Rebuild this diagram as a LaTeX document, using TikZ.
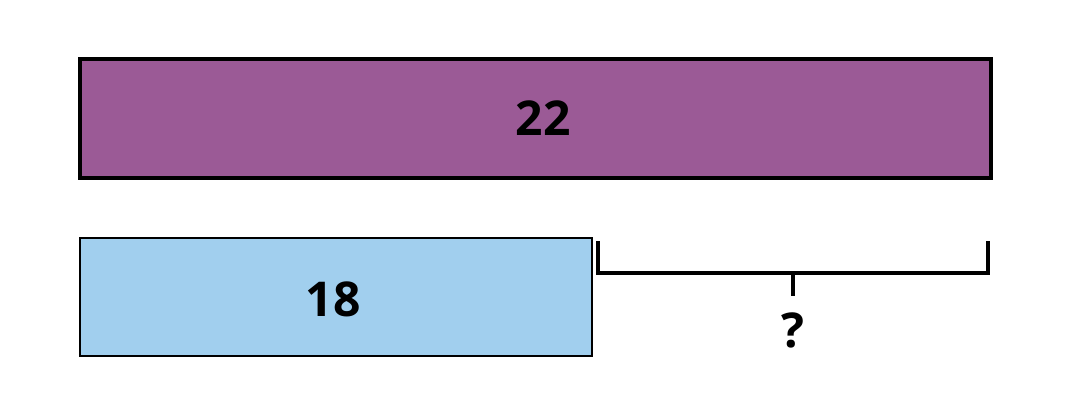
\documentclass[tikz,border=0pt]{standalone}
\usepackage{fontspec}
\setmainfont{Open Sans}
\definecolor{barpurple}{RGB}{155,90,150}
\definecolor{barblue}{RGB}{161,207,238}
\tikzset{every picture/.style={line width=0.75pt}}
\tikzset{
  barlabel/.style={font=\fontsize{48}{48}\selectfont\bfseries},
  bracketline/.style={line width=3.5pt, line cap=butt, line join=miter}
}

\begin{document}
\begin{tikzpicture}[x=1pt,y=1pt,yscale=-1,xscale=1]
\useasboundingbox (0,0) rectangle (1074,404);

%Shape: Rectangle [id:whole]
\draw [fill=barpurple, line width=3.5pt] (80,59) rectangle (991,178);
%Shape: Rectangle [id:part]
\draw [fill=barblue, line width=2.8pt] (80,238) rectangle (592,356);

%Bracket
\coordinate (bl) at (598,241);
\coordinate (br) at (988,241);
\coordinate (blc) at (598,273);
\coordinate (brc) at (988,273);
\coordinate (tick) at (793,273);
\coordinate (tickend) at (793,296);
\draw [bracketline] (bl) -- (blc) -- (brc) -- (br) ;
\draw [bracketline] (tick) -- (tickend) ;

% Text Node
\draw (543,118) node [barlabel] (wholelabel) {22};
% Text Node
\draw (333,299) node [barlabel] (partlabel) {18};
% Text Node
\draw (793,330) node [barlabel] (question) {?};

\end{tikzpicture}
\end{document}
